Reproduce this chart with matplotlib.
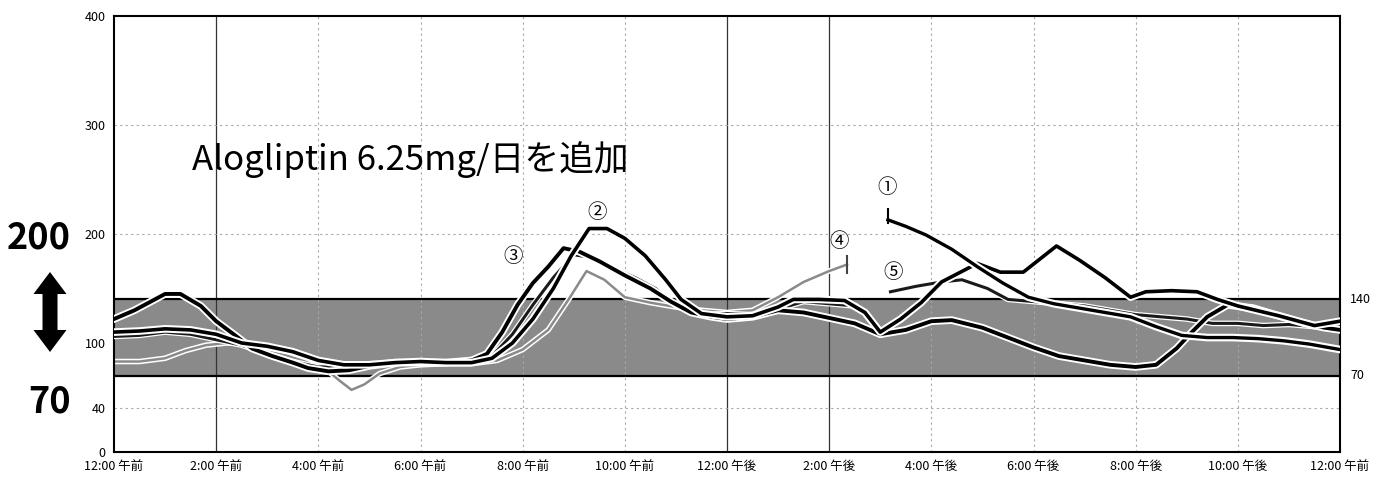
import numpy as np
import matplotlib
matplotlib.use("Agg")
import matplotlib.pyplot as plt
import matplotlib.patheffects as pe
from matplotlib.patches import Polygon

plt.rcParams['font.family'] = ['Noto Sans CJK JP', 'DejaVu Sans']

# --- axis setup -----------------------------------------------------------
hour_ticks = list(range(0, 25, 2))
hour_labels = ["12:00 午前", "2:00 午前", "4:00 午前", "6:00 午前", "8:00 午前",
               "10:00 午前", "12:00 午後", "2:00 午後", "4:00 午後", "6:00 午後",
               "8:00 午後", "10:00 午後", "12:00 午前"]
glucose_ticks = [0, 40, 100, 200, 300, 400]
target_low, target_high = 70, 140

# --- sensor traces (hours since midnight, mg/dL) ---------------------------
t1 = [15.15, 15.5, 15.9, 16.4, 16.9, 17.4, 17.9, 18.4, 18.9, 19.4, 19.9, 20.4,
      20.9, 21.4, 21.9, 22.4, 22.9, 23.4, 24.0]
g1 = [213, 207, 199, 186, 170, 155, 142, 136, 132, 128, 124, 115,
      107, 105, 105, 104, 102, 99, 94]

t2 = [0, 0.5, 1.0, 1.5, 2.0, 2.5, 3.0, 3.5, 4.0, 4.5, 5.0, 5.5, 6.0, 6.5, 7.0,
      7.4, 7.8, 8.2, 8.6, 8.95, 9.3, 9.65, 10.0, 10.4, 10.8, 11.1, 11.5, 12.0,
      12.5, 13.0, 13.3, 13.8, 14.3, 14.7, 15.0, 15.4, 15.8, 16.2, 16.9, 17.35,
      17.8, 18.45, 18.9, 19.4, 19.9, 20.2, 20.7, 21.2, 21.6, 22.0, 22.8, 23.5,
      24.0]
g2 = [110, 111, 113, 112, 108, 100, 97, 92, 84, 80, 80, 82, 83, 82, 82,
      86, 100, 122, 150, 180, 205, 205, 196, 180, 158, 140, 127, 124,
      125, 133, 140, 140, 139, 128, 110, 122, 137, 156, 173, 165,
      165, 189, 176, 160, 142, 147, 148, 147, 140, 134, 125, 116,
      120]

t3 = [0, 0.4, 0.8, 1.0, 1.3, 1.7, 2.0, 2.4, 2.7, 3.1, 3.5, 3.8, 4.2, 4.6, 5.0,
      5.5, 6.0, 6.5, 7.0, 7.3, 7.6, 7.9, 8.2, 8.5, 8.8, 9.1, 9.5, 10.0, 10.5,
      10.9, 11.3, 11.7, 12.0, 12.5, 13.0, 13.5, 14.0, 14.5, 15.0, 15.5, 16.0,
      16.4, 17.0, 17.5, 18.0, 18.5, 19.0, 19.5, 20.0, 20.4, 20.8, 21.1, 21.4,
      21.8, 22.3, 22.8, 23.3, 23.7, 24.0]
g3 = [122, 130, 140, 145, 145, 134, 120, 106, 95, 88, 82, 77, 74, 75, 79,
      82, 82, 82, 84, 90, 110, 135, 155, 170, 187, 184, 175, 162, 150,
      138, 128, 124, 122, 124, 130, 128, 123, 118, 108, 112, 120,
      121, 114, 105, 96, 88, 84, 80, 78, 80, 95, 110, 124,
      135, 132, 125, 118, 114, 112]

t4 = [0, 0.5, 1.0, 1.4, 1.8, 2.2, 2.6, 3.0, 3.4, 3.8, 4.1, 4.4, 4.65, 4.9, 5.2,
      5.6, 6.0, 6.5, 7.0, 7.5, 8.0, 8.5, 8.9, 9.25, 9.6, 10.0, 10.5, 11.0,
      11.5, 12.0, 12.5, 13.0, 13.5, 14.0, 14.35]
g4 = [83, 83, 86, 93, 98, 100, 99, 96, 92, 86, 78, 66, 57, 62, 72,
      78, 80, 81, 81, 84, 94, 112, 140, 166, 158, 142, 137, 133,
      130, 128, 130, 142, 156, 166, 172]

t5 = [0, 0.5, 1.0, 1.5, 2.0, 2.5, 3.0, 3.5, 4.0, 4.5, 5.0, 6.0, 7.0, 7.4, 7.8,
      8.2, 8.6, 9.0, 9.4, 9.8, 10.2, 10.6, 11.0, 11.5, 12.0, 12.5, 13.0, 13.5,
      14.0, 14.5, np.nan, 15.2, 15.7, 16.2, 16.6, 17.1, 17.5, 18.0, 18.5, 19.0,
      19.5, 20.0, 20.5, 21.0, 21.5, 22.0, 22.5, 23.0, 23.5, 24.0]
g5 = [106, 107, 110, 108, 103, 98, 90, 83, 78, 79, 81, 82, 82, 88, 108,
      135, 160, 181, 178, 168, 160, 150, 134, 126, 127, 126, 131, 138,
      136, 134, np.nan, 147, 152, 156, 158, 150, 140, 138, 136, 134,
      130, 126, 124, 122, 118, 118, 116, 117, 115, 112]

# circled-number labels: (text, hour, mg/dL)
trace_labels = [("①", 15.13, 243), ("②", 9.45, 220), ("③", 7.81, 179),
                ("④", 14.2, 193), ("⑤", 15.25, 165)]

W, H = 1393, 486
fig = plt.figure(figsize=(W / 100, H / 100), dpi=100)
ax = fig.add_axes([114 / W, 1 - 452 / H, (1340 - 114) / W, (452 - 16) / H])
ax.set_xlim(0, 24)
ax.set_ylim(0, 400)

# target range band
ax.axhspan(target_low, target_high, color='#8a8a8a', zorder=0, lw=0)
for lvl in (target_low, target_high):
    ax.axhline(lvl, color='black', lw=1.6, zorder=1)

# grid
for h in hour_ticks[1:-1]:
    if h in (2, 12, 14):
        ax.axvline(h, color='#333333', lw=0.9, zorder=0.5)
    else:
        ax.axvline(h, color='#a8a8a8', lw=0.8, ls=(0, (2, 3)), zorder=0.5)
for g in (40, 200, 300):
    ax.axhline(g, color='#a8a8a8', lw=0.8, ls=(0, (2, 3)), zorder=0.5)

halo = [pe.Stroke(linewidth=5.5, foreground='white'), pe.Normal()]
halo_thin = [pe.Stroke(linewidth=4.0, foreground='white'), pe.Normal()]

ax.plot(t4, g4, color='#8a8a8a', lw=1.8, zorder=2, path_effects=halo_thin)
ax.plot(t5, g5, color='#1a1a1a', lw=2.2, zorder=3, path_effects=halo_thin)
ax.plot(t3, g3, color='black', lw=2.8, zorder=4, path_effects=halo)
ax.plot(t2, g2, color='black', lw=2.6, zorder=4, path_effects=halo)
ax.plot(t1, g1, color='black', lw=2.4, zorder=4, path_effects=halo)

# sensor start / end markers
ax.plot([t1[0], t1[0]], [g1[0] - 3, g1[0] + 10], color='black', lw=1.5, zorder=5)
ax.plot([t4[-1], t4[-1]], [g4[-1] - 8, g4[-1] + 8], color='#444444', lw=1.5, zorder=5)

for txt, hx, gy in trace_labels:
    ax.text(hx, gy, txt, fontsize=14, ha='center', va='center', zorder=6)

ax.text(1.53, 268, "Alogliptin 6.25mg/日を追加", fontsize=25, ha='left',
        va='center', zorder=6)

# axes styling
for s in ax.spines.values():
    s.set_linewidth(1.5)
    s.set_color('black')
ax.set_xticks(hour_ticks)
ax.set_xticklabels(hour_labels, fontsize=9)
ax.set_yticks(glucose_ticks)
ax.set_yticklabels([str(v) for v in glucose_ticks], fontsize=9)
ax.tick_params(length=0, pad=6)

# target range values on the right edge
ax.text(24.2, target_high, "140", fontsize=9, ha='left', va='center')
ax.text(24.2, target_low, "70", fontsize=9, ha='left', va='center')

# large target range annotation on the left
fig.text(39 / W, 1 - 238 / H, "200", fontsize=26, ha='center', va='center',
         fontweight='bold')
fig.text(50 / W, 1 - 402 / H, "70", fontsize=26, ha='center', va='center',
         fontweight='bold')

cx, top, bot = 50, 272, 352
shaft, head_w, head_l = 7.5, 16.5, 22
arrow_px = [(cx, top), (cx + head_w, top + head_l), (cx + shaft, top + head_l),
            (cx + shaft, bot - head_l), (cx + head_w, bot - head_l), (cx, bot),
            (cx - head_w, bot - head_l), (cx - shaft, bot - head_l),
            (cx - shaft, top + head_l), (cx - head_w, top + head_l)]
arrow = Polygon([(x / W, 1 - y / H) for x, y in arrow_px], closed=True,
                transform=fig.transFigure, facecolor='black', edgecolor='none')
fig.patches.append(arrow)

fig.savefig("out.png", dpi=100)
